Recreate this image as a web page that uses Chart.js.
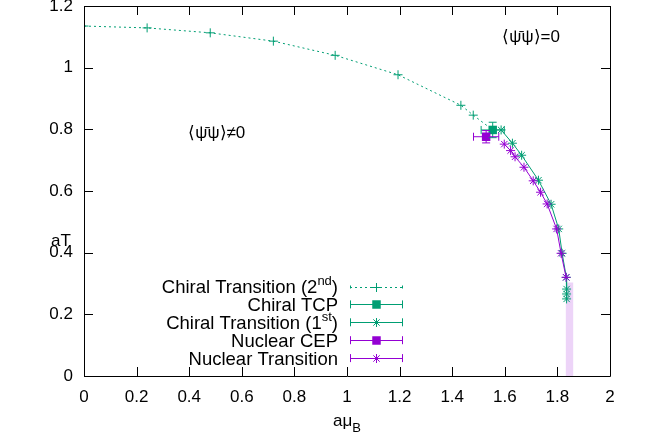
<!DOCTYPE html>
<html><head><meta charset="utf-8">
<script src="https://cdn.jsdelivr.net/npm/chart.js@4/dist/chart.umd.min.js"></script>
<style>html,body{margin:0;padding:0;background:#fff}#c{display:block}</style>
</head><body>
<canvas id="c" width="647" height="443"></canvas>
<script>
const GREEN = '#009e73', PURPLE = '#9400d3', BAND = 'rgba(148,0,211,0.17)';
const FONT = "'Liberation Sans', Arial, sans-serif";

// ---- data ----
const chiral2ndX = [0, 0.24, 0.48, 0.72, 0.955, 1.194, 1.433, 1.48];
const chiral2ndY = [1.135, 1.129, 1.113, 1.086, 1.040, 0.977, 0.878, 0.846];
const tcpX = [1.554], tcpY = [0.798], tcpXErr = [0.044], tcpYErr = [0.025];
const chiral1stX = [1.586, 1.629, 1.664, 1.728, 1.776, 1.805, 1.818, 1.834, 1.835, 1.835, 1.835];
const chiral1stY = [0.798, 0.755, 0.716, 0.635, 0.557, 0.477, 0.398, 0.320, 0.282, 0.266, 0.250];
const cepX = [1.529], cepY = [0.776], cepXErr = [0.048], cepYErr = [0.020];
const nuclearX = [1.598, 1.622, 1.639, 1.673, 1.708, 1.736, 1.761, 1.797, 1.814, 1.833];
const nuclearY = [0.752, 0.731, 0.711, 0.677, 0.633, 0.596, 0.558, 0.477, 0.398, 0.320];
const bandX = [1.831, 1.861], bandY = [0, 0.303];
const legendLabels = [
  ['Chiral Transition (2', 'nd', ')'],
  ['Chiral TCP', '', ''],
  ['Chiral Transition (1', 'st', ')'],
  ['Nuclear CEP', '', ''],
  ['Nuclear Transition', '', '']
];
const xTitle = ['aμ', 'B'], yTitle = 'aT';
const annotations = [
  {text: '⟨ψ̄ψ⟩=0', x: 1.70, y: 1.098},
  {text: '⟨ψ̄ψ⟩≠0', x: 0.505, y: 0.788}
];

const pts = (xs, ys) => xs.map((x, i) => ({x, y: ys[i]}));

// 2nd order line runs on to the TCP
const line2nd = pts(chiral2ndX, chiral2ndY).concat(pts(tcpX, tcpY));
const line2ndRadius = chiral2ndX.map(() => 4.5).concat([0]);
const bandPts = [
  {x: bandX[0], y: bandY[0]}, {x: bandX[0], y: bandY[1]},
  {x: bandX[1], y: bandY[1]}, {x: bandX[1], y: bandY[0]}
];

const errorBars = {
  id: 'errorBars',
  afterDatasetsDraw(chart) {
    const {ctx, scales: {x, y}} = chart;
    const sets = [
      {xs: tcpX, ys: tcpY, xe: tcpXErr, ye: tcpYErr, c: GREEN},
      {xs: cepX, ys: cepY, xe: cepXErr, ye: cepYErr, c: PURPLE}
    ];
    ctx.save();
    ctx.lineWidth = 1;
    sets.forEach(s => {
      ctx.strokeStyle = s.c;
      s.xs.forEach((v, i) => {
        const px = x.getPixelForValue(v), py = y.getPixelForValue(s.ys[i]);
        const x1 = x.getPixelForValue(v - s.xe[i]), x2 = x.getPixelForValue(v + s.xe[i]);
        const y1 = y.getPixelForValue(s.ys[i] - s.ye[i]), y2 = y.getPixelForValue(s.ys[i] + s.ye[i]);
        ctx.beginPath();
        ctx.moveTo(x1, py); ctx.lineTo(x2, py);
        ctx.moveTo(x1, py - 4); ctx.lineTo(x1, py + 4);
        ctx.moveTo(x2, py - 4); ctx.lineTo(x2, py + 4);
        ctx.moveTo(px, y1); ctx.lineTo(px, y2);
        ctx.moveTo(px - 4, y1); ctx.lineTo(px + 4, y1);
        ctx.moveTo(px - 4, y2); ctx.lineTo(px + 4, y2);
        ctx.stroke();
      });
    });
    ctx.restore();
  }
};

function marker(ctx, style, cx, cy, r, color) {
  ctx.strokeStyle = color; ctx.fillStyle = color; ctx.lineWidth = 1;
  ctx.beginPath();
  if (style === 'cross') {
    ctx.moveTo(cx - r, cy); ctx.lineTo(cx + r, cy);
    ctx.moveTo(cx, cy - r); ctx.lineTo(cx, cy + r);
    ctx.stroke();
  } else if (style === 'star') {
    ctx.moveTo(cx - r, cy); ctx.lineTo(cx + r, cy);
    ctx.moveTo(cx, cy - r); ctx.lineTo(cx, cy + r);
    const d = r * Math.SQRT1_2;
    ctx.moveTo(cx - d, cy - d); ctx.lineTo(cx + d, cy + d);
    ctx.moveTo(cx - d, cy + d); ctx.lineTo(cx + d, cy - d);
    ctx.stroke();
  } else if (style === 'rect') {
    const s = r * Math.SQRT1_2;
    ctx.fillRect(cx - s, cy - s, 2 * s, 2 * s);
  }
}

const frame = {
  id: 'frame',
  afterDraw(chart) {
    const {ctx, chartArea: a, scales: {x, y}} = chart;
    ctx.save();
    // border + inward ticks
    ctx.strokeStyle = '#000'; ctx.lineWidth = 1;
    ctx.beginPath();
    ctx.rect(a.left + 0.5, a.top + 0.5, a.right - a.left, a.bottom - a.top);
    x.ticks.forEach(t => {
      const p = Math.round(x.getPixelForValue(t.value)) + 0.5;
      ctx.moveTo(p, a.bottom); ctx.lineTo(p, a.bottom - 9);
      ctx.moveTo(p, a.top); ctx.lineTo(p, a.top + 9);
    });
    y.ticks.forEach(t => {
      const p = Math.round(y.getPixelForValue(t.value)) + 0.5;
      ctx.moveTo(a.left, p); ctx.lineTo(a.left + 9, p);
      ctx.moveTo(a.right, p); ctx.lineTo(a.right - 9, p);
    });
    ctx.stroke();

    // axis titles
    ctx.fillStyle = '#000';
    ctx.textBaseline = 'alphabetic';
    ctx.font = '17px ' + FONT;
    ctx.textAlign = 'center';
    ctx.fillText(yTitle, 61, 246);
    ctx.textAlign = 'left';
    const w1 = ctx.measureText(xTitle[0]).width;
    ctx.font = '13px ' + FONT;
    const w2 = ctx.measureText(xTitle[1]).width;
    const sx = (a.left + a.right) / 2 - (w1 + w2) / 2;
    ctx.font = '17px ' + FONT;
    ctx.fillText(xTitle[0], sx, 426);
    ctx.font = '13px ' + FONT;
    ctx.fillText(xTitle[1], sx + w1, 432);

    // annotations
    ctx.font = '17px ' + FONT;
    ctx.textAlign = 'center';
    ctx.textBaseline = 'middle';
    annotations.forEach(an => {
      ctx.fillText(an.text, x.getPixelForValue(an.x), y.getPixelForValue(an.y));
    });

    // legend
    const styles = [
      {c: GREEN, m: 'cross', dotted: true, r: 4.5},
      {c: GREEN, m: 'rect', dotted: false, r: 6},
      {c: GREEN, m: 'star', dotted: false, r: 4.5},
      {c: PURPLE, m: 'rect', dotted: false, r: 6},
      {c: PURPLE, m: 'star', dotted: false, r: 4.5}
    ];
    const right = 338, s1 = 350, s2 = 403, y0 = 286.5, dy = 17.9;
    const MAIN = '18.5px ' + FONT, SUP = '13px ' + FONT;
    legendLabels.forEach((lab, i) => {
      const yy = y0 + i * dy;
      ctx.textAlign = 'left'; ctx.textBaseline = 'alphabetic';
      ctx.fillStyle = '#000';
      ctx.font = MAIN;
      const wa = ctx.measureText(lab[0]).width, wc = ctx.measureText(lab[2]).width;
      ctx.font = SUP;
      const wb = ctx.measureText(lab[1]).width;
      const tx = right - wa - wb - wc;
      const base = yy + 6.5;
      ctx.font = MAIN;
      ctx.fillText(lab[0], tx, base);
      ctx.font = SUP;
      ctx.fillText(lab[1], tx + wa, base - 8);
      ctx.font = MAIN;
      ctx.fillText(lab[2], tx + wa + wb, base);

      const st = styles[i];
      ctx.strokeStyle = st.c; ctx.lineWidth = 1;
      ctx.beginPath();
      if (st.dotted) ctx.setLineDash([2, 3]); else ctx.setLineDash([]);
      ctx.moveTo(s1, Math.round(yy) + 0.5); ctx.lineTo(s2, Math.round(yy) + 0.5);
      ctx.stroke();
      ctx.setLineDash([]);
      ctx.beginPath();
      if (!st.dotted) {
        ctx.moveTo(s1 + 0.5, yy - 4); ctx.lineTo(s1 + 0.5, yy + 4);
        ctx.moveTo(s2 - 0.5, yy - 4); ctx.lineTo(s2 - 0.5, yy + 4);
      } else {
        ctx.moveTo(s1 + 0.5, yy - 1); ctx.lineTo(s1 + 0.5, yy + 2);
        ctx.moveTo(s2 - 0.5, yy - 1); ctx.lineTo(s2 - 0.5, yy + 2);
      }
      ctx.stroke();
      marker(ctx, st.m, (s1 + s2) / 2, Math.round(yy) + 0.5, st.r, st.c);
    });
    ctx.restore();
  }
};

Chart.defaults.font.family = FONT;
Chart.defaults.font.size = 17;
Chart.defaults.color = '#000';

const fmt = v => String(Number(Number(v).toFixed(1)));

new Chart(document.getElementById('c'), {
  type: 'scatter',
  data: {
    datasets: [
      {label: 'Nuclear Transition', data: pts(nuclearX, nuclearY), showLine: true,
       borderColor: PURPLE, borderWidth: 1, pointStyle: 'star', pointRadius: 4.5,
       pointBorderColor: PURPLE, pointBorderWidth: 1, order: 1},
      {label: 'Nuclear CEP', data: pts(cepX, cepY), pointStyle: 'rect', pointRadius: 6,
       pointBackgroundColor: PURPLE, pointBorderColor: PURPLE, pointBorderWidth: 0, order: 2},
      {label: 'Chiral Transition (1st)', data: pts(chiral1stX, chiral1stY), showLine: true,
       borderColor: GREEN, borderWidth: 1, pointStyle: 'star', pointRadius: 4.5,
       pointBorderColor: GREEN, pointBorderWidth: 1, order: 3},
      {label: 'Chiral TCP', data: pts(tcpX, tcpY), pointStyle: 'rect', pointRadius: 6,
       pointBackgroundColor: GREEN, pointBorderColor: GREEN, pointBorderWidth: 0, order: 4},
      {label: 'Chiral Transition (2nd)', data: line2nd, showLine: true,
       borderColor: GREEN, borderWidth: 1, borderDash: [2, 3], pointStyle: 'cross',
       pointRadius: line2ndRadius, pointBorderColor: GREEN, pointBorderWidth: 1, order: 5},
      {label: 'band', data: bandPts, showLine: true, fill: 'origin', backgroundColor: BAND,
       borderWidth: 0, borderColor: 'rgba(0,0,0,0)', pointRadius: 0, order: 6}
    ]
  },
  options: {
    responsive: false, animation: false,
    layout: {padding: {left: 0, top: 6, right: 37, bottom: 0}},
    plugins: {legend: {display: false}, tooltip: {enabled: false}},
    elements: {line: {tension: 0}},
    scales: {
      x: {type: 'linear', min: 0, max: 2,
          ticks: {stepSize: 0.2, padding: 11, maxRotation: 0, autoSkip: false, callback: fmt},
          grid: {display: false, drawTicks: false}, border: {display: false},
          afterFit(s) { s.height = 67; s.paddingLeft = 0; s.paddingRight = 0; }},
      y: {type: 'linear', min: 0, max: 1.2,
          ticks: {stepSize: 0.2, padding: 11, autoSkip: false, callback: fmt},
          grid: {display: false, drawTicks: false}, border: {display: false},
          afterFit(s) { s.width = 84; s.paddingTop = 0; s.paddingBottom = 0; }}
    }
  },
  plugins: [errorBars, frame]
});
</script>
</body></html>
